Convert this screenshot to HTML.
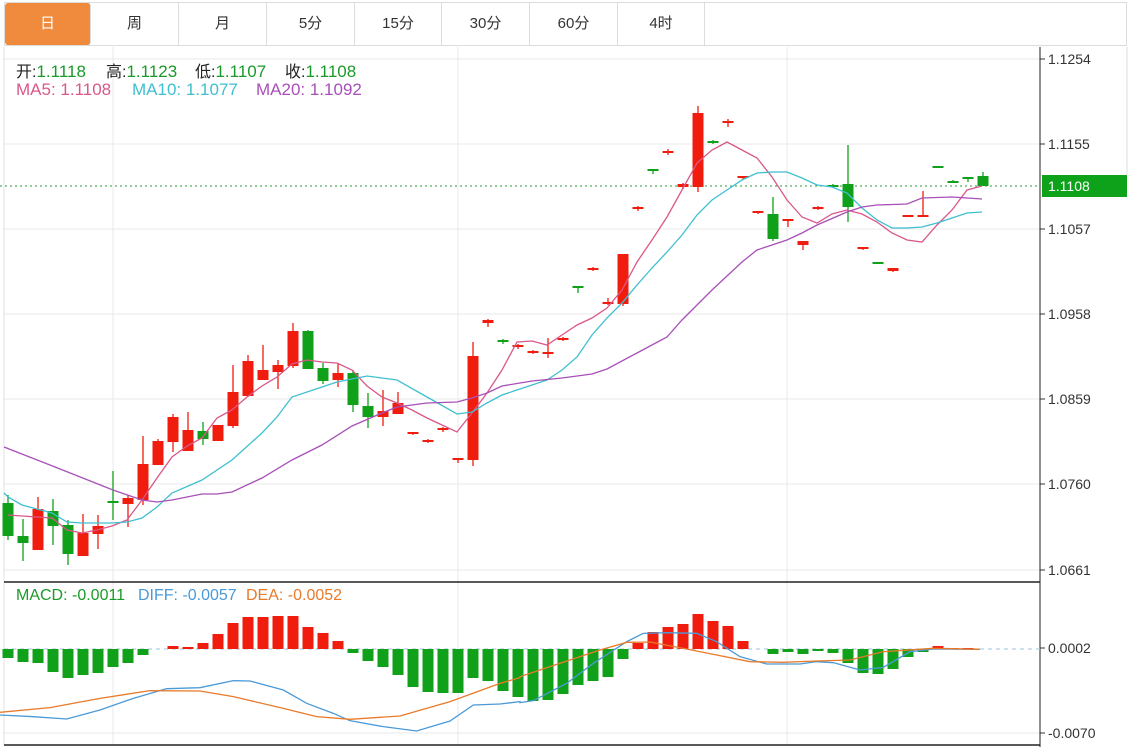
<!DOCTYPE html>
<html><head><meta charset="utf-8">
<style>
html,body{margin:0;padding:0;background:#fff;width:1139px;height:747px;overflow:hidden;font-family:"Liberation Sans","Noto Sans CJK SC",sans-serif;}
.tabs{position:absolute;left:4px;top:2px;height:44px;width:1123px;border:1px solid #ddd;border-bottom:1px solid #ddd;box-sizing:border-box;}
.tab{position:absolute;top:0;height:42px;line-height:42px;text-align:center;font-size:15px;color:#333;border-right:1px solid #ddd;box-sizing:border-box;}
.tab.on{background:#f08a3c;color:#fff;border-radius:3px;}
.lab{position:absolute;font-size:16px;white-space:nowrap;}
</style></head><body>
<div class="tabs">
<div class="tab on" style="left:0;width:86px">日</div>
<div class="tab" style="left:86px;width:88px">周</div>
<div class="tab" style="left:174px;width:88px">月</div>
<div class="tab" style="left:262px;width:88px">5分</div>
<div class="tab" style="left:350px;width:87px">15分</div>
<div class="tab" style="left:437px;width:88px">30分</div>
<div class="tab" style="left:525px;width:88px">60分</div>
<div class="tab" style="left:613px;width:87px">4时</div>
</div>
<svg id="s" width="1139" height="747" style="position:absolute;left:0;top:0" xmlns="http://www.w3.org/2000/svg">
<g font-family="Liberation Sans, sans-serif" font-size="14" fill="#333">
<text x="1048" y="64">1.1254</text>
<text x="1048" y="149">1.1155</text>
<text x="1048" y="234">1.1057</text>
<text x="1048" y="319">1.0958</text>
<text x="1048" y="404">1.0859</text>
<text x="1048" y="489">1.0760</text>
<text x="1048" y="575">1.0661</text>
<text x="1048" y="653">0.0002</text>
<text x="1048" y="738">-0.0070</text>
</g>
</svg>
<div class="lab" style="left:16px;top:58px;color:#222">开:<span style="color:#1a9a2a;font-size:17px">1.1118</span></div>
<div class="lab" style="left:106px;top:58px;color:#222">高:<span style="color:#1a9a2a;font-size:17px">1.1123</span></div>
<div class="lab" style="left:195px;top:58px;color:#222">低:<span style="color:#1a9a2a;font-size:17px">1.1107</span></div>
<div class="lab" style="left:285px;top:58px;color:#222">收:<span style="color:#1a9a2a;font-size:17px">1.1108</span></div>
<div class="lab" style="left:16px;top:80px;font-size:17px;color:#d9578a">MA5: 1.1108</div>
<div class="lab" style="left:132px;top:80px;font-size:17px;color:#3fbfd0">MA10: 1.1077</div>
<div class="lab" style="left:256px;top:80px;font-size:17px;color:#a850b8">MA20: 1.1092</div>
<div class="lab" style="left:16px;top:587px;font-size:16px;color:#1a9a2a">MACD: -0.0011</div>
<div class="lab" style="left:138px;top:587px;font-size:16px;color:#4a9ad8">DIFF: -0.0057</div>
<div class="lab" style="left:246px;top:587px;font-size:16px;color:#e87a2a">DEA: -0.0052</div>
<div class="lab" style="left:1042px;top:175px;width:85px;height:22px;background:#0ea11a;color:#fff;font-size:14px;line-height:22px;padding-left:6px;box-sizing:border-box">1.1108</div>
<script>
var s=document.getElementById('s'),NS='http://www.w3.org/2000/svg';
function add(t,a){var e=document.createElementNS(NS,t);for(var k in a)e.setAttribute(k,a[k]);s.appendChild(e);return e;}
var R='#f01d0f',G='#10a01a';
[59,144,229,314,399,484,570].forEach(function(y){add('line',{x1:4,x2:1040,y1:y,y2:y,stroke:'#e8e8e8'});add('line',{x1:1040,x2:1045,y1:y,y2:y,stroke:'#333'});});
[648,733].forEach(function(y){add('line',{x1:1040,x2:1045,y1:y,y2:y,stroke:'#333'});});
add('line',{x1:4,x2:1040,y1:733,y2:733,stroke:'#e8e8e8'});
[113,458,787].forEach(function(x){add('line',{x1:x,x2:x,y1:47,y2:745,stroke:'#e8e8e8'});});
add('line',{x1:4,x2:4,y1:47,y2:745,stroke:'#e0e0e0'});
add('line',{x1:4,x2:1040,y1:582,y2:582,stroke:'#222','stroke-width':1.5});
add('line',{x1:4,x2:1040,y1:745,y2:745,stroke:'#222','stroke-width':1.5});
add('line',{x1:1040,x2:1040,y1:47,y2:747,stroke:'#222'});
add('line',{x1:1127,x2:1127,y1:47,y2:175,stroke:'#ddd'});
add('line',{x1:4,x2:1040,y1:649,y2:649,stroke:'#9cc3dd','stroke-dasharray':'4,4'});
add('line',{x1:0,x2:1040,y1:186,y2:186,stroke:'#2a9a3a','stroke-dasharray':'2,3'});
var C=[[G,503,536,495,540],[G,536,543,519,561],[R,509,550,497,550],[G,511,526,499,545],[G,525,554,520,565],[R,533,556,514,556],[R,526,534,515,549],[G,501,503,471,520],[R,498,504,495,527],[R,464,500,436,505],
[R,441,465,439,465],[R,417,442,414,452],[R,430,451,412,451],[G,431,439,422,445],[R,425,441,425,441],[R,392,426,365,428],[R,361,396,355,397],[R,370,380,345,380],[R,365,372,360,389],[R,331,366,323,368],
[G,331,369,330,369],[G,368,381,363,384],[R,373,380,363,387],[G,373,405,370,412],[G,406,417,393,428],[R,411,417,390,426],[R,403,414,392,414],[R,432,434,432,435],[R,440,442,439,443],[R,428,430,427,432],
[R,458,460,458,463],[R,356,460,342,466],[R,320,323,319,327],[G,340,342,339,344],[R,345,347,344,349],[R,351,353,350,354],[R,352,354,338,358],[R,338,340,337,341],[G,286,288,286,293],[R,268,270,267,271],
[R,302,304,298,305],[R,254,304,254,306],[R,207,209,206,211],[G,169,171,169,174],[R,151,153,149,155],[R,184,187,183,189],[R,113,187,106,192],[G,141,143,140,144],[R,121,123,119,127],[R,176,178,176,179],
[R,211,213,211,214],[G,214,239,197,241],[R,219,221,219,227],[R,241,245,241,250],[R,207,209,206,210],[G,185,187,184,188],[G,184,207,145,222],[R,247,249,247,250],[G,262,263,262,263],[R,268,271,268,272],
[R,215,217,215,217],[R,215,217,191,217],[G,166,168,166,168],[G,181,183,180,183],[G,177,179,177,182],[G,176,186,172,186]];
C.forEach(function(c,i){var x=8+15*i;add('line',{x1:x,x2:x,y1:c[3],y2:c[4],stroke:c[0],'stroke-width':1.3});var h=Math.max(2,c[2]-c[1]);add('rect',{x:x-5.5,y:c[1],width:11,height:h,fill:c[0]});});
function pl(pts,col){add('polyline',{points:pts.map(function(p){return p[0]+','+p[1]}).join(' '),fill:'none',stroke:col,'stroke-width':1.3});}
pl([[8,515],[22,516],[52,518],[67,530],[82,533],[97,530],[112,526],[127,520],[142,500],[157,478],[172,457],[187,446],[202,438],[217,418],[232,410],[247,397],[262,386],[277,377],[292,364],[307,360],[322,362],[337,363],[352,370],[367,386],[382,397],[397,403],[412,410],[427,418],[442,425],[457,432],[472,413],[487,393],[502,370],[517,342],[532,341],[547,345],[562,335],[577,325],[592,318],[607,308],[622,290],[637,262],[652,240],[667,217],[682,190],[697,163],[712,150],[727,142],[742,150],[757,158],[772,177],[787,200],[802,217],[817,223],[832,214],[847,210],[862,214],[877,222],[892,233],[907,240],[922,242],[937,225],[952,210],[967,190],[982,186]],'#d9578a');
pl([[4,493],[8,497],[22,505],[52,513],[67,522],[82,523],[112,523],[127,522],[142,518],[157,507],[172,493],[202,480],[232,460],[262,433],[277,417],[292,397],[322,387],[337,382],[367,376],[397,380],[427,397],[457,414],[472,412],[487,403],[502,395],[517,390],[532,385],[547,380],[562,370],[577,357],[592,335],[607,318],[622,303],[637,285],[652,268],[667,252],[682,235],[697,215],[712,200],[727,190],[742,180],[757,173],[772,172],[787,172],[802,178],[817,185],[832,187],[847,193],[862,208],[877,220],[892,228],[907,228],[922,227],[937,223],[952,218],[967,213],[982,212]],'#3fbfd0');
pl([[4,447],[50,465],[113,490],[142,500],[157,502],[172,500],[202,494],[217,494],[232,492],[262,478],[292,460],[322,445],[352,426],[382,413],[397,407],[427,403],[457,402],[472,398],[487,393],[502,386],[532,381],[562,378],[592,374],[607,369],[637,353],[667,337],[682,320],[712,290],[742,262],[757,250],[787,240],[802,233],[817,225],[847,212],[862,207],[877,205],[907,204],[922,198],[952,197],[967,198],[982,199]],'#a850b8');
var M=[658,662,663,672,678,675,673,667,663,655,649,646,647,643,634,623,617,617,616,616,627,633,641,653,661,667,675,687,692,693,693,678,681,691,697,701,700,694,685,681,677,659,643,632,627,624,614,621,626,641,649,654,652,654,651,653,663,673,674,669,657,652,646,648,648,649];
M.forEach(function(y,i){var x=8+15*i;if(Math.abs(y-649)<1)return;var col=y<649?R:G;add('rect',{x:x-5.5,y:Math.min(y,649),width:11,height:Math.abs(y-649),fill:col});});
function zc(a,off){return a.map(function(p){return [off+p[0]/3,580+p[1]/3];});}
pl(zc([[0,405],[100,410],[200,417],[300,390],[400,355],[500,326],[600,323],[700,302],[750,303],[850,330],[920,370],[1000,400],[1050,422],[1150,440],[1250,453],[1350,423],[1420,375],[1500,372],[1560,365]],0).concat(zc([[60,368],[100,362],[200,310],[280,250],[380,185],[430,160],[500,158],[590,160],[650,185],[720,230],[800,252],[900,252],[950,245],[1000,248],[1080,270],[1150,262],[1230,215],[1300,207],[1440,208]],500)),'#4a9ad8');
pl(zc([[0,397],[150,383],[300,355],[450,332],[600,333],[700,350],[850,385],[950,410],[1050,418],[1200,408],[1350,365],[1500,310],[1560,293]],0).concat(zc([[60,290],[150,260],[300,210],[380,187],[450,186],[550,205],[650,225],[750,245],[850,247],[950,243],[1050,240],[1150,215],[1300,205],[1440,208]],500)),'#e87a2a');
</script>
</body></html>
